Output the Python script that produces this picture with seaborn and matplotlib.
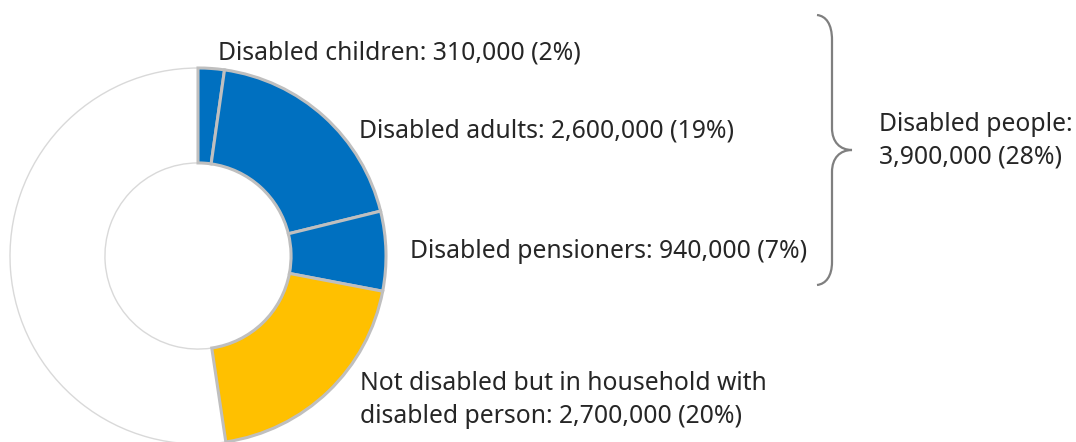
import matplotlib
matplotlib.use("Agg")
import matplotlib.pyplot as plt
from matplotlib.path import Path
from matplotlib.patches import PathPatch
import seaborn as sns

sns.set_theme(style="white")
plt.rcParams['font.family'] = ['Noto Sans', 'DejaVu Sans']

# Data
categories = ["Disabled children", "Disabled adults", "Disabled pensioners",
              "Not disabled but in household with disabled person", "Other"]
values = [310000, 2600000, 940000, 2700000, 7200000]
labels = ["Disabled children: 310,000 (2%)",
          "Disabled adults: 2,600,000 (19%)",
          "Disabled pensioners: 940,000 (7%)",
          "Not disabled but in household with\ndisabled person: 2,700,000 (20%)"]
group_label = "Disabled people:\n3,900,000 (28%)"

colors = ["#0070C0", "#0070C0", "#0070C0", "#FFC000", "#FFFFFF"]

W, H = 1076, 442
fig = plt.figure(figsize=(W / 100, H / 100), dpi=100)
ax = fig.add_axes([0, 0, 1, 1])
ax.set_xlim(0, W)
ax.set_ylim(0, H)
ax.set_aspect('equal')
ax.axis('off')

cx, cy, R = 198, H - 256, 188
wedges, _ = ax.pie(values, colors=colors, startangle=90, counterclock=False,
                   center=(cx, cy), radius=R,
                   wedgeprops=dict(width=R * 0.505, edgecolor="#BFBFBF", linewidth=2.2))
wedges[-1].set_edgecolor("#D9D9D9")
wedges[-1].set_linewidth(1.0)
wedges[-1].set_zorder(0)
ax.set_xlim(0, W)
ax.set_ylim(0, H)

tc = "#262626"
fs = 17.8
def t(x, y, s):
    ax.text(x, H - y, s, fontsize=fs, color=tc, ha='left', va='baseline')

t(218, 60, labels[0])
t(359, 137, labels[1])
t(410, 258, labels[2])
t(360, 390, labels[3].split("\n")[0])
t(360, 423, labels[3].split("\n")[1])
t(879, 131, group_label.split("\n")[0])
t(879, 163, group_label.split("\n")[1])

# curly brace
def P(x, y):
    return (x, H - y)
verts = [P(817, 15), P(826, 16), P(832, 24), P(832, 40),
         P(832, 128),
         P(832, 142), P(840, 150), P(852, 150),
         P(840, 150), P(832, 158), P(832, 172),
         P(832, 262),
         P(832, 276), P(826, 284), P(817, 285)]
codes = [Path.MOVETO, Path.CURVE4, Path.CURVE4, Path.CURVE4,
         Path.LINETO,
         Path.CURVE4, Path.CURVE4, Path.CURVE4,
         Path.CURVE4, Path.CURVE4, Path.CURVE4,
         Path.LINETO,
         Path.CURVE4, Path.CURVE4, Path.CURVE4]
ax.add_patch(PathPatch(Path(verts, codes), facecolor='none', edgecolor='#7F7F7F', lw=1.6))

fig.savefig("out.png", dpi=100)
